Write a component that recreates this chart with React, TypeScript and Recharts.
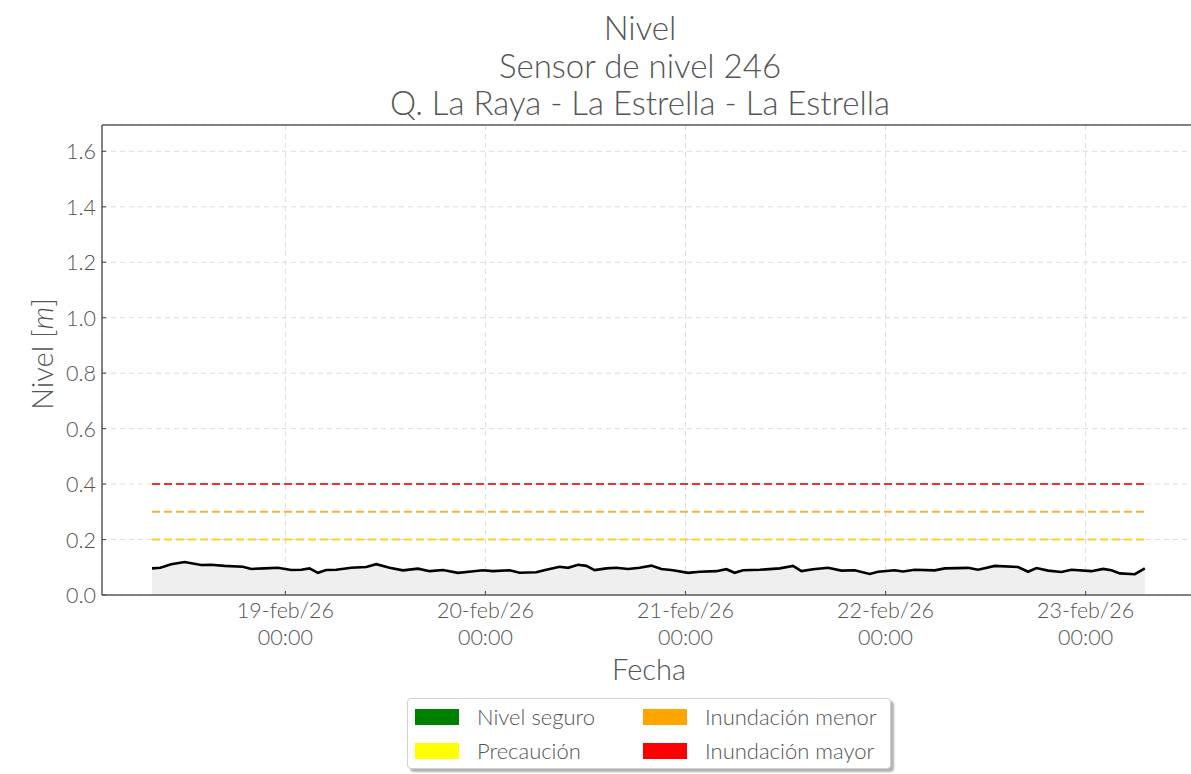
import React from 'react';
import { ComposedChart, Area, Line, XAxis, YAxis, CartesianGrid, ReferenceLine } from 'recharts';

// Hours counted from 18-feb/26 00:00
const HOURS = [
  8, 9, 10.3, 11.9, 13.9, 15.1, 16.7, 18.9, 19.9, 21.5, 23.1, 24.7, 25.9, 26.9, 27.9, 28.9, 30.1, 31.9, 33.7, 34.9,
  36.5, 38.1, 39.9, 41.3, 42.9, 44.7, 46.3, 47.7, 48.9, 50.9, 52.1, 54.1, 55.3, 56.9, 57.9, 59.1, 60.1, 61.1, 62.5, 63.7,
  65.1, 66.5, 67.9, 69.1, 70.5, 72.3, 73.7, 75.7, 76.9, 77.9, 78.9, 80.9, 83.3, 84.9, 85.9, 87.3, 89.1, 90.7, 92.3, 94.1,
  95.1, 97.1, 98.1, 99.5, 101.9, 103.1, 105.9, 107.1, 109.1, 111.9, 113.1, 114.1, 115.5, 117.1, 118.3, 120.7, 122.1, 123.1, 124.1, 125.9,
  127.1,
];

const LEVELS = [
  0.096, 0.098, 0.111, 0.119, 0.108, 0.109, 0.105, 0.102, 0.094, 0.096, 0.098, 0.090, 0.091, 0.096, 0.080, 0.090, 0.091, 0.098, 0.101, 0.111,
  0.098, 0.089, 0.095, 0.086, 0.090, 0.080, 0.085, 0.089, 0.086, 0.089, 0.080, 0.082, 0.091, 0.102, 0.098, 0.109, 0.105, 0.090, 0.096, 0.098,
  0.094, 0.098, 0.106, 0.094, 0.089, 0.080, 0.084, 0.086, 0.093, 0.080, 0.089, 0.091, 0.096, 0.105, 0.086, 0.093, 0.098, 0.088, 0.089, 0.076,
  0.084, 0.089, 0.085, 0.091, 0.089, 0.096, 0.098, 0.091, 0.105, 0.101, 0.084, 0.097, 0.088, 0.083, 0.091, 0.086, 0.094, 0.089, 0.078, 0.075,
  0.096,
];

const CAUTION = 0.2;
const MINOR_FLOOD = 0.3;
const MAJOR_FLOOD = 0.4;

const X_TICKS = [24, 48, 72, 96, 120];
const X_TICK_DATES = ['19-feb/26', '20-feb/26', '21-feb/26', '22-feb/26', '23-feb/26'];
const X_TICK_TIMES = ['00:00', '00:00', '00:00', '00:00', '00:00'];
const Y_TICKS = [0, 0.2, 0.4, 0.6, 0.8, 1.0, 1.2, 1.4, 1.6];

const TITLE_LINES = ['Nivel', 'Sensor de nivel 246', 'Q. La Raya - La Estrella - La Estrella'];

const LEGEND_ITEMS = [
  { label: 'Nivel seguro', color: '#008000' },
  { label: 'Inundación menor', color: '#FFA500' },
  { label: 'Precaución', color: '#FFFF00' },
  { label: 'Inundación mayor', color: '#FF0000' },
];

const FONT = 'Lato, "Noto Sans", sans-serif';
const WEIGHT = 300;
const TEXT = '#555555';
const AXIS = '#5a5a5a';

const data = HOURS.map((h, i) => ({
  h,
  nivel: LEVELS[i],
  caution: CAUTION,
  minor: MINOR_FLOOD,
  major: MAJOR_FLOOD,
}));

const XTick = (props: any) => {
  const { x, y, payload } = props;
  const idx = X_TICKS.indexOf(payload.value);
  return (
    <g>
      <line x1={x} x2={x} y1={y} y2={y - 4} stroke={AXIS} strokeWidth={1.2} />
      <text x={x} y={y + 23} textAnchor="middle" fill={TEXT} fontSize={21.5} fontWeight={WEIGHT} fontFamily={FONT}>
        {X_TICK_DATES[idx]}
      </text>
      <text x={x} y={y + 50} textAnchor="middle" fill={TEXT} fontSize={21.5} fontWeight={WEIGHT} fontFamily={FONT}>
        {X_TICK_TIMES[idx]}
      </text>
    </g>
  );
};

const YTick = (props: any) => {
  const { x, y, payload } = props;
  return (
    <g>
      <line x1={x + 8} x2={x + 12} y1={y} y2={y} stroke={AXIS} strokeWidth={1.2} />
      <text x={x + 2} y={y + 8} textAnchor="end" fill={TEXT} fontSize={21.5} fontWeight={WEIGHT} fontFamily={FONT}>
        {Number(payload.value).toFixed(1)}
      </text>
    </g>
  );
};

export default function App() {
  return (
    <div style={{ position: 'absolute', left: 0, top: 0, width: 1191, height: 774, overflow: 'hidden', background: '#fff' }}>
      <ComposedChart
        width={1200}
        height={774}
        data={data}
        margin={{ top: 125, right: 6, bottom: 0, left: 0 }}
      >
        <CartesianGrid stroke="#dddddd" strokeDasharray="5 4" strokeWidth={1} />
        <XAxis
          dataKey="h"
          type="number"
          domain={[2, 133]}
          ticks={X_TICKS}
          height={179}
          tickSize={0}
          tickMargin={0}
          tickLine={false}
          tick={<XTick />}
          axisLine={{ stroke: AXIS, strokeWidth: 1.5 }}
          allowDataOverflow
        />
        <YAxis
          type="number"
          domain={[0, 1.695]}
          ticks={Y_TICKS}
          width={102}
          tickSize={0}
          tickMargin={8}
          tickLine={false}
          tick={<YTick />}
          axisLine={{ stroke: AXIS, strokeWidth: 1.5 }}
          allowDataOverflow
        />
        <ReferenceLine y={1.695} stroke={AXIS} strokeWidth={1.5} />
        <Area
          type="linear"
          dataKey="nivel"
          stroke="none"
          fill="#efefef"
          fillOpacity={1}
          isAnimationActive={false}
        />
        <Line type="linear" dataKey="caution" stroke="#FFD21F" strokeWidth={2} strokeDasharray="8 4" dot={false} isAnimationActive={false} />
        <Line type="linear" dataKey="minor" stroke="#FFB030" strokeWidth={2} strokeDasharray="8 4" dot={false} isAnimationActive={false} />
        <Line type="linear" dataKey="major" stroke="#F53030" strokeWidth={2} strokeDasharray="8 4" dot={false} isAnimationActive={false} />
        <Line type="linear" dataKey="nivel" stroke="#000000" strokeWidth={2.6} dot={false} isAnimationActive={false} />
      </ComposedChart>

      <svg width={1191} height={774} style={{ position: 'absolute', left: 0, top: 0, pointerEvents: 'none' }}>
        {TITLE_LINES.map((t, i) => (
          <text key={t} x={640} y={40 + i * 37.5} textAnchor="middle" fill={TEXT} fontSize={33} fontWeight={WEIGHT} fontFamily={FONT}>
            {t}
          </text>
        ))}
        <text x={649} y={680} textAnchor="middle" fill={TEXT} fontSize={29} fontWeight={WEIGHT} fontFamily={FONT}>Fecha</text>
        <text x={53} y={354} textAnchor="middle" fill={TEXT} fontSize={29} fontWeight={WEIGHT} fontFamily={FONT} transform="rotate(-90 53 354)">
          Nivel [<tspan fontStyle="italic">m</tspan>]
        </text>
      </svg>

      <div
        style={{
          position: 'absolute',
          left: 407,
          top: 698,
          width: 484,
          height: 71,
          border: '1px solid #d0d0d0',
          borderRadius: 4,
          boxShadow: '3px 3px 2px rgba(0,0,0,0.3)',
          background: '#fff',
          fontFamily: FONT,
          fontWeight: WEIGHT,
          fontSize: 22,
          color: TEXT,
          boxSizing: 'border-box',
        }}
      >
        {LEGEND_ITEMS.map((it, i) => {
          const col = i % 2;
          const row = Math.floor(i / 2);
          return (
            <div
              key={it.label}
              style={{
                position: 'absolute',
                left: col === 0 ? 7 : 235,
                top: row === 0 ? 9 : 43,
                display: 'flex',
                alignItems: 'center',
                height: 17,
                whiteSpace: 'nowrap',
              }}
            >
              <span style={{ display: 'inline-block', width: 44, height: 16, background: it.color, marginRight: 18 }} />
              <span style={{ lineHeight: '17px' }}>{it.label}</span>
            </div>
          );
        })}
      </div>
    </div>
  );
}
